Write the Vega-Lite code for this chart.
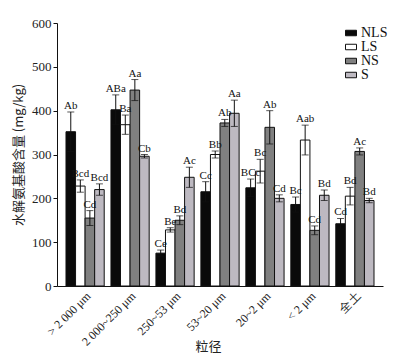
{
  "$schema": "https://vega.github.io/schema/vega-lite/v6.json",
  "autosize": "none",
  "width": 326,
  "height": 263,
  "padding": {"left": 57, "top": 23, "right": 28, "bottom": 75},
  "background": "white",
  "config": {
    "view": {"stroke": null},
    "font": "Liberation Serif",
    "axis": {"labelFont": "Liberation Serif", "titleFont": "Noto Sans CJK SC", "labelColor": "#222", "titleColor": "#222", "domainColor": "#111", "tickColor": "#111", "grid": false}
  },
  "data": {
    "values": [
      {"g": "> 2 000 μm", "t": "NLS", "v": 352, "lo": 307, "hi": 397, "lab": "Ab"},
      {"g": "> 2 000 μm", "t": "LS", "v": 228, "lo": 214, "hi": 242, "lab": "Bcd"},
      {"g": "> 2 000 μm", "t": "NS", "v": 155, "lo": 138, "hi": 172, "lab": "Cd"},
      {"g": "> 2 000 μm", "t": "S", "v": 220, "lo": 207, "hi": 233, "lab": "Bcd"},
      {"g": "2 000~250 μm", "t": "NLS", "v": 402, "lo": 368, "hi": 436, "lab": "ABa"},
      {"g": "2 000~250 μm", "t": "LS", "v": 368, "lo": 346, "hi": 390, "lab": "Ba"},
      {"g": "2 000~250 μm", "t": "NS", "v": 447, "lo": 423, "hi": 471, "lab": "Aa"},
      {"g": "2 000~250 μm", "t": "S", "v": 296, "lo": 292, "hi": 300, "lab": "Cb"},
      {"g": "250~53 μm", "t": "NLS", "v": 75, "lo": 68, "hi": 82, "lab": "Ce"},
      {"g": "250~53 μm", "t": "LS", "v": 128, "lo": 123, "hi": 133, "lab": "Be"},
      {"g": "250~53 μm", "t": "NS", "v": 150, "lo": 140, "hi": 160, "lab": "Bd"},
      {"g": "250~53 μm", "t": "S", "v": 248, "lo": 225, "hi": 271, "lab": "Ac"},
      {"g": "53~20 μm", "t": "NLS", "v": 215, "lo": 192, "hi": 238, "lab": "Cc"},
      {"g": "53~20 μm", "t": "LS", "v": 300, "lo": 292, "hi": 308, "lab": "Bb"},
      {"g": "53~20 μm", "t": "NS", "v": 372, "lo": 364, "hi": 380, "lab": "Ab"},
      {"g": "53~20 μm", "t": "S", "v": 394, "lo": 364, "hi": 424, "lab": "Aa"},
      {"g": "20~2 μm", "t": "NLS", "v": 224, "lo": 204, "hi": 244, "lab": "BCc"},
      {"g": "20~2 μm", "t": "LS", "v": 262, "lo": 235, "hi": 289, "lab": "Bc"},
      {"g": "20~2 μm", "t": "NS", "v": 362, "lo": 324, "hi": 400, "lab": "Ab"},
      {"g": "20~2 μm", "t": "S", "v": 200, "lo": 192, "hi": 208, "lab": "Cd"},
      {"g": "< 2 μm", "t": "NLS", "v": 186, "lo": 169, "hi": 203, "lab": "Bc"},
      {"g": "< 2 μm", "t": "LS", "v": 333, "lo": 299, "hi": 367, "lab": "Aab"},
      {"g": "< 2 μm", "t": "NS", "v": 127, "lo": 117, "hi": 137, "lab": "Cd"},
      {"g": "< 2 μm", "t": "S", "v": 207, "lo": 195, "hi": 219, "lab": "Bd"},
      {"g": "全土", "t": "NLS", "v": 142, "lo": 130, "hi": 154, "lab": "Cd"},
      {"g": "全土", "t": "LS", "v": 205, "lo": 185, "hi": 225, "lab": "Bd"},
      {"g": "全土", "t": "NS", "v": 307, "lo": 299, "hi": 315, "lab": "Ac"},
      {"g": "全土", "t": "S", "v": 195, "lo": 190, "hi": 200, "lab": "Bd"}
    ]
  },
  "encoding": {
    "x": {
      "field": "g", "type": "nominal", "sort": null,
      "scale": {"paddingInner": 0.15, "paddingOuter": 0.2},
      "axis": {"title": "粒径", "labelAngle": -45, "labelAlign": "right", "labelBaseline": "top", "labelFontSize": 12, "ticks": false, "labelPadding": 4, "titleFontSize": 13, "titleFontWeight": "normal", "titleY": 54, "titleX": 151, "titleBaseline": "top", "labelFont": "Liberation Serif"}
    },
    "xOffset": {"field": "t", "type": "nominal", "sort": ["NLS", "LS", "NS", "S"]}
  },
  "layer": [
    {
      "mark": {"type": "bar", "stroke": "#111", "strokeWidth": 1},
      "encoding": {
        "y": {
          "field": "v", "type": "quantitative",
          "scale": {"domain": [0, 600]},
          "axis": {"title": "水解氨基酸含量 (mg/kg)", "values": [0, 100, 200, 300, 400, 500, 600], "labelFontSize": 13, "tickSize": 4, "titleFontSize": 13, "titleFontWeight": "normal", "titlePadding": 6}
        },
        "fill": {
          "field": "t", "type": "nominal",
          "scale": {"domain": ["NLS", "LS", "NS", "S"], "range": ["#0a0a0a", "#ffffff", "#808080", "#bdb9c1"]},
          "legend": {"title": null, "orient": "none", "legendX": 287, "legendY": 3, "symbolType": "M-1,-0.5H1V0.5H-1Z", "symbolSize": 121, "symbolStrokeColor": "#111", "symbolStrokeWidth": 1, "labelFontSize": 14, "labelFont": "Liberation Serif", "labelColor": "#111", "rowPadding": 0, "labelOffset": 3}
        }
      }
    },
    {
      "mark": {"type": "rule", "color": "#111", "strokeWidth": 1},
      "encoding": {"y": {"field": "lo", "type": "quantitative"}, "y2": {"field": "hi"}}
    },
    {
      "mark": {"type": "tick", "color": "#111", "size": 7, "thickness": 1, "orient": "horizontal"},
      "encoding": {"y": {"field": "lo", "type": "quantitative"}}
    },
    {
      "mark": {"type": "tick", "color": "#111", "size": 7, "thickness": 1, "orient": "horizontal"},
      "encoding": {"y": {"field": "hi", "type": "quantitative"}}
    },
    {
      "mark": {"type": "text", "baseline": "bottom", "dy": -1, "fontSize": 11, "font": "Liberation Serif", "color": "#111"},
      "encoding": {"y": {"field": "hi", "type": "quantitative"}, "text": {"field": "lab"}}
    }
  ]
}
